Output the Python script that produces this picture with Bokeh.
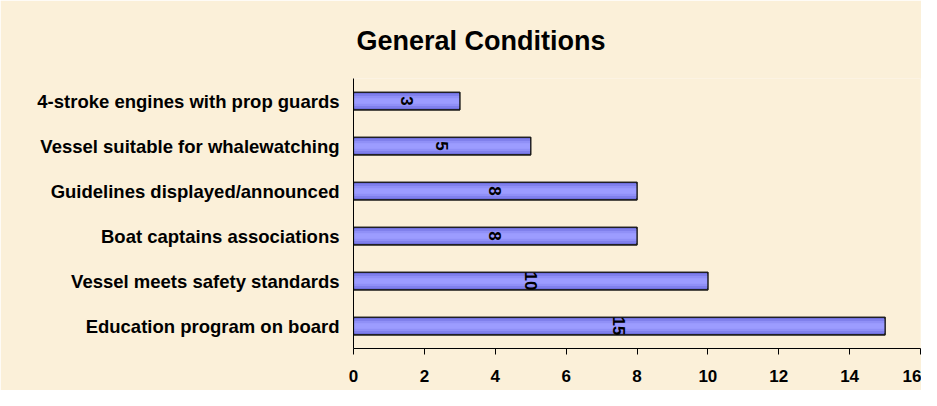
import math
from bokeh.plotting import figure
from bokeh.models import ColumnDataSource, FactorRange, Range1d, FixedTicker, Title
from bokeh.core.properties import value
from bokeh.embed import file_html
from bokeh.resources import INLINE

# ---- data (top to bottom as shown) ----
categories = [
    "4-stroke engines with prop guards",
    "Vessel suitable for whalewatching",
    "Guidelines displayed/announced",
    "Boat captains associations",
    "Vessel meets safety standards",
    "Education program on board",
]
counts = [3, 5, 8, 8, 10, 15]
x_ticks = [0, 2, 4, 6, 8, 10, 12, 14, 16]
title_text = "General Conditions"

BG = "#FBF0D9"
FONT = "Liberation Sans"

src = ColumnDataSource(dict(
    cat=categories,
    val=counts,
    mid=[v / 2 for v in counts],
    lab=[str(v) for v in counts],
))

p = figure(
    width=921, height=390,
    y_range=FactorRange(*list(reversed(categories))),
    x_range=Range1d(0, 16),
    output_backend="svg", toolbar_location=None,
    min_border_left=353, min_border_right=1,
    min_border_top=78, min_border_bottom=42,
    background_fill_color=BG, border_fill_color=BG,
)
p.outline_line_color = None
p.grid.grid_line_color = None
p.y_range.range_padding = 0

# bars with a simulated vertical gradient
p.hbar(y="cat", right="val", left=0, height=0.39, source=src,
       fill_color="#6F6FDF", line_color="#1a1a1a", line_width=1.2)
for h, c in [(0.31, "#8080EC"), (0.22, "#9090F7"), (0.12, "#9C9CFF")]:
    p.hbar(y="cat", right="val", left=0, height=h, source=src,
           fill_color=c, line_color=None)
p.hbar(y="cat", right="val", left=0, height=0.39, source=src,
       fill_color=None, line_color="#1a1a1a", line_width=1.2)

# value labels rotated
p.text(x="mid", y="cat", text="lab", source=src, angle=-math.pi / 2,
       text_align="center", text_baseline="middle",
       text_font=value(FONT), text_font_style="bold",
       text_font_size="17px", text_color="black")

# axes
p.xaxis.ticker = FixedTicker(ticks=x_ticks)
p.xaxis.major_tick_out = 6
p.xaxis.major_tick_in = 0
p.xaxis.minor_tick_line_color = None
p.xaxis.axis_line_color = "black"
p.xaxis.major_tick_line_color = "black"
p.xaxis.major_label_text_font = FONT
p.xaxis.major_label_text_font_style = "bold"
p.xaxis.major_label_text_font_size = "17px"
p.xaxis.major_label_standoff = 15
p.xaxis.major_label_text_color = "black"

p.yaxis.major_tick_line_color = None
p.yaxis.major_tick_out = 0
p.yaxis.major_tick_in = 0
p.yaxis.axis_line_color = "black"
p.yaxis.major_label_text_font = FONT
p.yaxis.major_label_text_font_style = "bold"
p.yaxis.major_label_text_font_size = "18.5px"
p.yaxis.major_label_standoff = 14
p.yaxis.major_label_text_color = "black"

# title
t = Title(text=title_text, align="left", offset=3, standoff=46,
          text_font=FONT, text_font_style="bold", text_font_size="27px",
          text_color="black")
p.add_layout(t, "above")

open("out.html", "w").write(file_html(p, INLINE))
